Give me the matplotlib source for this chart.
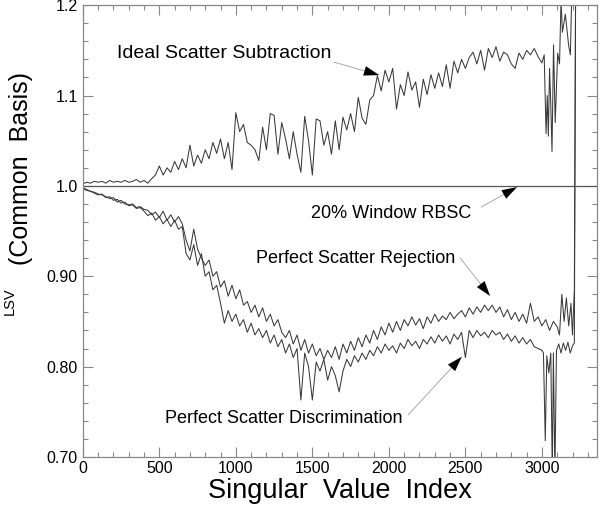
import numpy as np
import matplotlib
matplotlib.use('Agg')
from matplotlib import pyplot as plt
from matplotlib.ticker import MultipleLocator

plt.rcParams['font.family'] = ['Liberation Sans', 'DejaVu Sans']

# singular value index grid for the main body (every 25), tails are listed explicitly
x_body = np.arange(0, 3000, 25)

ideal_body = [
    1.002, 1.004, 1.003, 1.005, 1.004, 1.005, 1.003, 1.006, 1.004, 1.005,
    1.004, 1.006, 1.004, 1.005, 1.007, 1.004, 1.006, 1.003, 1.008, 1.012,
    1.022, 1.012, 1.020, 1.015, 1.027, 1.018, 1.030, 1.020, 1.045, 1.022,
    1.034, 1.025, 1.040, 1.030, 1.048, 1.036, 1.052, 1.030, 1.048, 1.018,
    1.081, 1.060, 1.068, 1.048, 1.045, 1.040, 1.028, 1.065, 1.040, 1.080,
    1.078, 1.035, 1.070, 1.052, 1.030, 1.060, 1.035, 1.015, 1.077, 1.050,
    1.012, 1.074, 1.072, 1.045, 1.060, 1.035, 1.072, 1.040, 1.076, 1.062,
    1.080, 1.060, 1.098, 1.075, 1.068, 1.095, 1.100, 1.122, 1.105, 1.128,
    1.115, 1.130, 1.085, 1.112, 1.100, 1.126, 1.106, 1.115, 1.087, 1.118,
    1.101, 1.123, 1.108, 1.125, 1.110, 1.134, 1.108, 1.138, 1.125, 1.140,
    1.130, 1.142, 1.148, 1.135, 1.150, 1.128, 1.152, 1.142, 1.154, 1.138,
    1.148, 1.145, 1.135, 1.130, 1.147, 1.140, 1.150, 1.145, 1.152, 1.143,
]
ideal_tail_x = [3000, 3015, 3027, 3035, 3042, 3050, 3058, 3066, 3076, 3087,
                3103, 3115, 3125, 3134, 3153, 3175, 3186, 3200, 3215]
ideal_tail_y = [1.136, 1.145, 1.058, 1.100, 1.055, 1.130, 1.090, 1.038, 1.156, 1.070,
                1.147, 1.135, 1.205, 1.170, 1.190, 1.155, 1.145, 1.250, 1.300]

reject_body = [
    0.998, 0.996, 0.994, 0.993, 0.991, 0.990, 0.988, 0.986, 0.987, 0.982,
    0.984, 0.980, 0.979, 0.980, 0.976, 0.977, 0.974, 0.973, 0.968, 0.971,
    0.965, 0.972, 0.962, 0.968, 0.960, 0.966, 0.958, 0.940, 0.928, 0.952,
    0.930, 0.920, 0.912, 0.918, 0.900, 0.905, 0.888, 0.895, 0.878, 0.890,
    0.875, 0.885, 0.868, 0.872, 0.860, 0.868, 0.855, 0.865, 0.850, 0.858,
    0.845, 0.852, 0.838, 0.832, 0.840, 0.825, 0.835, 0.818, 0.830, 0.815,
    0.825, 0.812, 0.820, 0.808, 0.818, 0.810, 0.822, 0.808, 0.825, 0.815,
    0.828, 0.818, 0.832, 0.822, 0.835, 0.826, 0.840, 0.830, 0.844, 0.835,
    0.848, 0.838, 0.850, 0.840, 0.852, 0.845, 0.855, 0.846, 0.853, 0.842,
    0.855, 0.848, 0.858, 0.850, 0.856, 0.852, 0.860, 0.853, 0.858, 0.862,
    0.855, 0.865, 0.858, 0.866, 0.860, 0.868, 0.862, 0.868, 0.860, 0.866,
    0.855, 0.863, 0.852, 0.860, 0.850, 0.858, 0.848, 0.870, 0.850, 0.855,
]
reject_tail_x = [3000, 3025, 3050, 3075, 3100, 3115, 3130, 3145, 3160, 3175,
                 3190, 3200, 3212, 3222]
reject_tail_y = [0.845, 0.852, 0.840, 0.850, 0.844, 0.835, 0.880, 0.850, 0.876, 0.845,
                 0.870, 0.835, 0.885, 1.300]

discrim_body = [
    0.997, 0.995, 0.994, 0.992, 0.990, 0.991, 0.987, 0.988, 0.984, 0.985,
    0.981, 0.982, 0.978, 0.979, 0.975, 0.976, 0.972, 0.967, 0.970, 0.962,
    0.966, 0.958, 0.963, 0.955, 0.962, 0.952, 0.955, 0.925, 0.918, 0.935,
    0.912, 0.925, 0.900, 0.905, 0.885, 0.890, 0.870, 0.848, 0.862, 0.850,
    0.858, 0.845, 0.852, 0.838, 0.848, 0.835, 0.842, 0.832, 0.840, 0.826,
    0.835, 0.822, 0.830, 0.815, 0.825, 0.810, 0.820, 0.763, 0.815, 0.800,
    0.763, 0.805, 0.795, 0.808, 0.785, 0.800, 0.790, 0.772, 0.795, 0.808,
    0.800, 0.812, 0.805, 0.815, 0.808, 0.818, 0.812, 0.822, 0.815, 0.825,
    0.818, 0.823, 0.815, 0.826, 0.820, 0.830, 0.823, 0.828, 0.820, 0.830,
    0.825, 0.833, 0.826, 0.835, 0.828, 0.834, 0.825, 0.836, 0.830, 0.838,
    0.810, 0.840, 0.832, 0.840, 0.834, 0.838, 0.832, 0.840, 0.835, 0.838,
    0.830, 0.836, 0.828, 0.834, 0.826, 0.832, 0.825, 0.830, 0.822, 0.820,
]
discrim_tail_x = [3000, 3010, 3022, 3032, 3045, 3058, 3068, 3075, 3085, 3095,
                  3110, 3125, 3140, 3155, 3170, 3185, 3200, 3212, 3222]
discrim_tail_y = [0.818, 0.815, 0.718, 0.812, 0.793, 0.815, 0.680, 0.815, 0.680, 0.818,
                  0.825, 0.815, 0.826, 0.818, 0.827, 0.815, 0.823, 0.826, 1.300]

rbsc_x = [0, 3360]
rbsc_y = [1.0, 1.0]

ideal_x = np.concatenate([x_body, ideal_tail_x])
ideal_y = np.concatenate([ideal_body, ideal_tail_y])
reject_x = np.concatenate([x_body, reject_tail_x])
reject_y = np.concatenate([reject_body, reject_tail_y])
discrim_x = np.concatenate([x_body, discrim_tail_x])
discrim_y = np.concatenate([discrim_body, discrim_tail_y])

fig = plt.figure(figsize=(6.0, 5.14), dpi=100)
ax = fig.add_axes([0.138, 0.111, 0.857, 0.879])

line_col = '#3a3a3a'
ax.plot(ideal_x, ideal_y, color=line_col, lw=0.75)
ax.plot(reject_x, reject_y, color=line_col, lw=0.75)
ax.plot(discrim_x, discrim_y, color=line_col, lw=0.75)
ax.plot(rbsc_x, rbsc_y, color='#555555', lw=0.9)

ax.set_xlim(0, 3360)
ax.set_ylim(0.70, 1.20)
ax.set_yticks([0.70, 0.80, 0.90, 1.0, 1.1, 1.2])
ax.set_yticklabels(['0.70', '0.80', '0.90', '1.0', '1.1', '1.2'])
ax.set_xticks([0, 500, 1000, 1500, 2000, 2500, 3000])
ax.xaxis.set_minor_locator(MultipleLocator(100))
ax.yaxis.set_minor_locator(MultipleLocator(0.02))
ax.tick_params(which='both', direction='in', top=True, right=True,
               color='#888888', labelsize=11.5)
ax.tick_params(which='major', length=7, width=0.8)
ax.tick_params(which='minor', length=3.5, width=0.8)
ax.tick_params(axis='x', pad=3)
for s in ax.spines.values():
    s.set_color('#888888')
    s.set_linewidth(0.9)

ax.set_xlabel('Singular  Value  Index', fontsize=19.5, labelpad=1)
fig.text(0.035, 0.672, '(Common  Basis)', rotation=90, fontsize=18,
         ha='center', va='center')
fig.text(0.016, 0.414, 'LSV', rotation=90, fontsize=10.5,
         ha='center', va='center')

# text labels with thin grey leader lines ending in a black arrow head
notes = [
    ('Ideal Scatter Subtraction', (925, 1.147), (1640, 1.137), (1937, 1.1226), 14),
    ('20% Window RBSC', (2015, 0.969), (2603, 0.9765), (2838, 0.9987), 13),
    ('Perfect Scatter Rejection', (1781, 0.920), (2467, 0.920), (2662, 0.878), 13),
    ('Perfect Scatter Discrimination', (1310, 0.743), (2126, 0.7465), (2477, 0.811), 13),
]
for txt, tpos, start, tip, fs in notes:
    ax.text(tpos[0], tpos[1], txt, fontsize=fs, ha='center', va='center')
    ax.annotate('', xy=tip, xytext=start,
                arrowprops=dict(arrowstyle='-', color='#aaaaaa', lw=0.7,
                                shrinkA=0, shrinkB=6))
    ax.annotate('', xy=tip, xytext=start,
                arrowprops=dict(arrowstyle='-|>,head_length=1.1,head_width=0.35',
                                color='black', lw=0.0, shrinkA=0, shrinkB=0))

fig.savefig('out.png', dpi=100)
